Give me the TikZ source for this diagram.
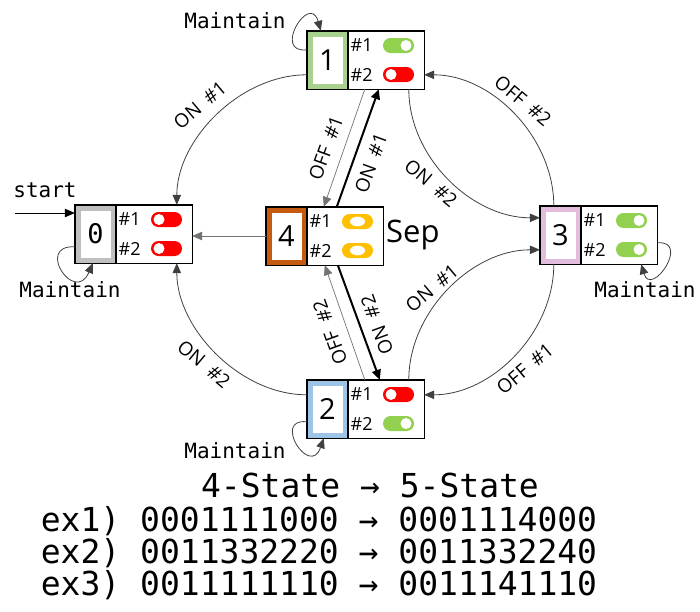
\documentclass[tikz,border=0pt]{standalone}
\usepackage{fontspec}
\setmainfont{Open Sans}
\newfontfamily\monof{DejaVu Sans Mono}
\usetikzlibrary{arrows.meta,calc}
\definecolor{tgreen}{HTML}{92D050}
\definecolor{tred}{HTML}{FF0000}
\definecolor{tyellow}{HTML}{FFC000}
\definecolor{bgray}{HTML}{BFBFBF}
\definecolor{bgreen}{HTML}{A9D18E}
\definecolor{bblue}{HTML}{9DC3E6}
\definecolor{bpink}{HTML}{E2BCDC}
\definecolor{borange}{HTML}{C55A11}
\definecolor{edgec}{HTML}{404040}
\newcommand\togon[2]{\fill[tgreen,rounded corners=7.5pt] (#1-15.5,#2-7.5) rectangle (#1+15.5,#2+7.5);
  \fill[white] (#1+7.5,#2) circle[radius=5.5pt];}
\newcommand\togoff[2]{\fill[tred,rounded corners=7.5pt] (#1-15.5,#2-7.5) rectangle (#1+15.5,#2+7.5);
  \fill[white] (#1-7.5,#2) circle[radius=5.5pt];}
\newcommand\togmid[2]{\fill[tyellow,rounded corners=7.5pt] (#1-15.5,#2-7.5) rectangle (#1+15.5,#2+7.5);
  \fill[white] (#1,#2) ellipse[x radius=7.5pt,y radius=4.8pt];}
\newcommand\drawstate[8]{%
  \node[statebox] (#1) at (#2+58.5,#3+29) {};
  \fill[#4] (#2,#3) rectangle (#2+41,#3+58);
  \fill[white] (#2+5.5,#3+5.5) rectangle (#2+35.5,#3+52.5);
  \node[font=#8] (#1num) at (#2+20.5,#3+29) {#5};
  \node[toglab] (#1ta) at (#2+43.5,#3+14.5) {\#1};
  \node[toglab] (#1tb) at (#2+43.5,#3+43.5) {\#2};
  #6{#2+91.5}{#3+14.5}
  #7{#2+91.5}{#3+43.5}
  \draw[line width=1.4pt] (#2+41,#3) -- (#2+41,#3+58);
  \draw[line width=1.4pt] (#1.north west) rectangle (#1.south east);
}
\begin{document}
\begin{tikzpicture}[x=1pt,y=-1pt,
  statebox/.style={fill=white,minimum width=117pt,minimum height=58pt,inner sep=0pt},
  toglab/.style={anchor=west,inner sep=0pt,font=\fontsize{18}{18}\selectfont},
  edge/.style={draw=edgec,line width=0.8pt,-{Triangle[length=10pt,width=8.5pt]}},
  thinedge/.style={draw=black!55,line width=0.7pt,-{Triangle[length=10pt,width=8.5pt]}},
  thickedge/.style={draw=black,line width=2pt,-{Triangle[length=10pt,width=9pt]}},
  elab/.style={inner sep=0pt,font=\fontsize{19}{19}\selectfont},
  mlab/.style={inner sep=0pt,font=\monof\fontsize{21}{21}\selectfont},
  blab/.style={inner sep=0pt,font=\monof\fontsize{33}{33}\selectfont}]
\useasboundingbox (0,0) rectangle (700,611);

\drawstate{s0}{75}{205}{bgray}{0}{\togoff}{\togoff}{\monof\fontsize{27}{27}\selectfont}
\drawstate{s1}{307}{31}{bgreen}{1}{\togon}{\togoff}{\fontsize{29}{29}\selectfont}
\drawstate{s4}{266}{207}{borange}{4}{\togmid}{\togmid}{\fontsize{29}{29}\selectfont}
\drawstate{s3}{540}{206}{bpink}{3}{\togon}{\togon}{\fontsize{29}{29}\selectfont}
\drawstate{s2}{307}{380}{bblue}{2}{\togoff}{\togon}{\fontsize{29}{29}\selectfont}

\node[inner sep=0pt,anchor=base west,font=\fontsize{31}{31}\selectfont] (sep) at (386,242) {Sep};

% start
\coordinate (st) at (15,213);
\draw[edge,draw=black] (st) -- (st -| s0.west);
\node[mlab] (stlab) at (45,190) {start};

% maintain loops
\draw[edge] ($(s0.north west)+(0,42)$) .. controls +(-40,-2) and +(-18,42) .. ($(s0.south west)+(18,0)$);
\draw[edge] ($(s1.north west)+(0,19)$) .. controls +(-35,4) and +(-11,-39) .. ($(s1.north west)+(14,0)$);
\draw[edge] ($(s2.north west)+(0,42)$) .. controls +(-35,-4) and +(-14,40) .. ($(s2.south west)+(17,0)$);
\draw[edge] ($(s3.north east)+(0,37)$) .. controls +(34,-3) and +(10,34) .. ($(s3.south east)+(-16,0)$);
\node[mlab] (m0) at (70,290) {Maintain};
\node[mlab] (m1) at (235,21) {Maintain};
\node[mlab] (m2) at (235,451) {Maintain};
\node[mlab] (m3) at (645,290) {Maintain};

% curved edges
\draw[edge] ($(s1.north west)+(0,44)$) .. controls +(-67,0) and +(0,-65) .. ($(s0.north west)+(102,0)$);
\draw[edge] ($(s2.north west)+(0,15)$) .. controls +(-67,0) and +(0,65) .. ($(s0.south west)+(102,0)$);
\draw[edge] ($(s1.south west)+(102,0)$) .. controls +(0,68) and +(-68,0) .. ($(s3.north west)+(0,12)$);
\draw[edge] ($(s3.north west)+(14,0)$) .. controls +(0,-68) and +(68,0) .. ($(s1.north east)+(0,44)$);
\draw[edge] ($(s2.north west)+(102,0)$) .. controls +(0,-68) and +(-68,0) .. ($(s3.north west)+(0,44)$);
\draw[edge] ($(s3.south west)+(14,0)$) .. controls +(0,68) and +(68,0) .. ($(s2.north east)+(0,15)$);

\node[elab,rotate=40] (l10) at (200,105) {ON\hspace{0.5em}\#1};
\node[elab,rotate=-40] (l20) at (204,364) {ON\hspace{0.5em}\#2};
\node[elab,rotate=-40] (l13) at (431,183) {ON\hspace{0.5em}\#2};
\node[elab,rotate=-40] (l31) at (523,101) {OFF\hspace{0.5em}\#2};
\node[elab,rotate=40] (l23) at (432,288) {ON\hspace{0.5em}\#1};
\node[elab,rotate=40] (l32) at (525,369) {OFF\hspace{0.5em}\#1};

% straight edges
\draw[thinedge] (s4.west) -- (s4.west -| s0.east);
\draw[thinedge] ($(s1.south west)+(58,0)$) -- ($(s4.north west)+(58,0)$);
\draw[thickedge] ($(s4.north west)+(71,0)$) -- ($(s1.south west)+(72,0)$);
\draw[thinedge] ($(s2.north west)+(58,0)$) -- ($(s4.south west)+(59,0)$);
\draw[thickedge] ($(s4.south west)+(72,0)$) -- ($(s2.north west)+(73,0)$);

\node[elab,rotate=70] (l14) at (326,148) {OFF\hspace{0.5em}\#1};
\node[elab,rotate=70] (l41) at (371,163) {ON\hspace{0.5em}\#1};
\node[elab,rotate=110] (l24) at (330,332) {OFF\hspace{0.5em}\#2};
\node[elab,rotate=110] (l42) at (377,325) {ON\hspace{0.5em}\#2};

% bottom text
\node[blab] (b0) at (370,485) {4-State → 5-State};
\node[blab] (b1) at (319,521) {ex1) 0001111000 → 0001114000};
\node[blab] (b2) at (319,553) {ex2) 0011332220 → 0011332240};
\node[blab] (b3) at (319,585) {ex3) 0011111110 → 0011141110};
\end{tikzpicture}
\end{document}
